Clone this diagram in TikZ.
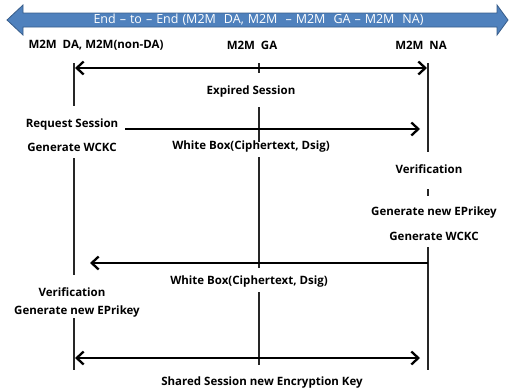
\documentclass[tikz,border=0pt]{standalone}
\usepackage{fontspec}
\setmainfont{Open Sans}
\usetikzlibrary{arrows.meta}
\definecolor{bandblue}{HTML}{4F81BD}
\definecolor{bandedge}{HTML}{385D8A}
\tikzset{
  lbl/.style={font=\bfseries\fontsize{11.5}{13}\selectfont, inner sep=0pt, anchor=center},
  life/.style={line width=1.1pt, black!85},
  msg/.style={line width=2.4pt, -{Straight Barb[length=7pt,width=13pt,line width=2.3pt]}},
  msgboth/.style={line width=2.4pt, {Straight Barb[length=7pt,width=13pt,line width=2.3pt]}-{Straight Barb[length=7pt,width=13pt,line width=2.3pt]}},
}
\begin{document}
\begin{tikzpicture}[x=1pt,y=-1pt]
\useasboundingbox (0,0) rectangle (510,391);
% top band arrow
\draw[fill=bandblue, draw=bandedge, line width=0.8pt]
  (7,20) -- (23,5) -- (23,13) -- (497,13) -- (497,5) -- (508,20) -- (497,35) -- (497,27) -- (23,27) -- (23,35) -- cycle;
\node[font=\fontsize{12.5}{14}\selectfont, text=white, inner sep=0pt] (band) at (258.5,20) {\spaceskip=4pt End -- to -- End (M2M\ \ DA, M2M\ \ -- M2M\ \ GA -- M2M\ \ NA)};
% headers
\node[lbl] (hDA) at (96,45) {M2M\ \ DA, M2M(non-DA)};
\node[lbl] (hGA) at (252,45) {M2M\ \ GA};
\node[lbl] (hNA) at (421,45) {M2M\ \ NA};
% lifeline coordinates
\coordinate (da1) at (74,63); \coordinate (da2) at (74,106);
\coordinate (da3) at (74,158); \coordinate (da4) at (74,275);
\coordinate (da5) at (74,318); \coordinate (da6) at (74,370);
\coordinate (ga1) at (259,63); \coordinate (ga2) at (259,73);
\coordinate (ga3) at (259,107); \coordinate (ga4) at (259,142);
\coordinate (ga5) at (259,157); \coordinate (ga6) at (259,268);
\coordinate (ga7) at (259,292); \coordinate (ga8) at (259,365);
\coordinate (na1) at (428,63); \coordinate (na2) at (428,152);
\coordinate (na3) at (428,189); \coordinate (na4) at (428,196);
\coordinate (na5) at (428,247); \coordinate (na6) at (428,370);
\draw[life] (da1) -- (da2) (da3) -- (da4) (da5) -- (da6);
\draw[life] (ga1) -- (ga2) (ga3) -- (ga4) (ga5) -- (ga6) (ga7) -- (ga8);
\draw[life] (na1) -- (na2) (na3) -- (na4) (na5) -- (na6);
% messages
\coordinate (m1a) at (75,68); \coordinate (m1b) at (427,68);
\draw[msgboth] (m1a) -- (m1b);
\node[lbl] (t1) at (251,92) {Expired Session};
\node[lbl] (rs) at (72,125) {Request Session};
\node[lbl] (gw1) at (72,147) {Generate WCKC};
\coordinate (m2a) at (125,129); \coordinate (m2b) at (420,129);
\draw[msg] (m2a) -- (m2b);
\node[lbl] (t2) at (251,147) {White Box(Ciphertext, Dsig)};
\node[lbl] (v1) at (429,169) {Verification};
\node[lbl] (ge1) at (434,213) {Generate new EPrikey};
\node[lbl] (gw2) at (434,236) {Generate WCKC};
\coordinate (m3a) at (428,263); \coordinate (m3b) at (90,263);
\draw[msg] (m3a) -- (m3b);
\node[lbl] (t3) at (249,282) {White Box(Ciphertext, Dsig)};
\node[lbl] (v2) at (72,292) {Verification};
\node[lbl] (ge2) at (77,312) {Generate new EPrikey};
\coordinate (m4a) at (75,358); \coordinate (m4b) at (420,358);
\draw[msgboth] (m4a) -- (m4b);
\node[lbl] (t4) at (262,383) {Shared Session new Encryption Key};
\end{tikzpicture}
\end{document}
